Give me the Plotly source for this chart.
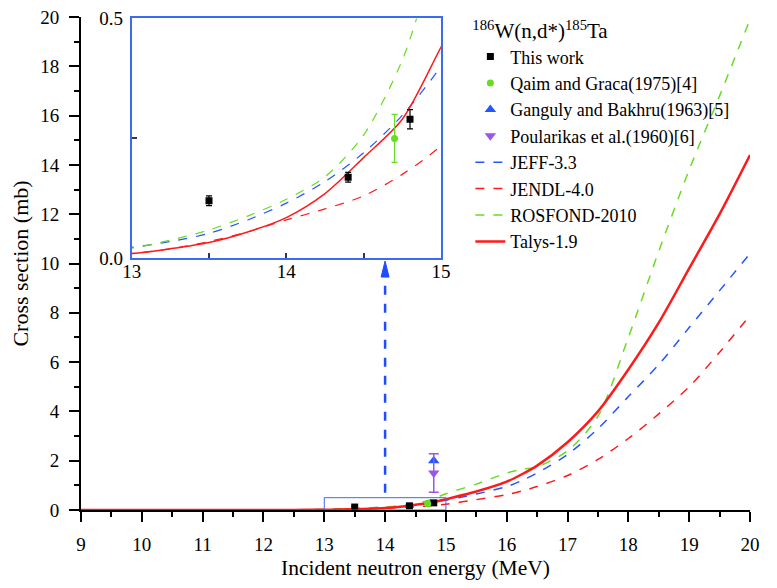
import plotly.graph_objects as go

# ---------------- data ----------------
energy = [9, 10, 11, 12, 12.5, 13, 13.25, 13.5, 13.75, 14, 14.25, 14.5, 14.75, 15,
          15.5, 16, 16.25, 16.5, 17, 17.5, 18, 18.5, 19, 19.5, 20]
talys = [0, 0, 0, 0.001, 0.004, 0.010, 0.02, 0.033, 0.055, 0.085, 0.135, 0.21, 0.29, 0.44,
         0.75, 1.15, 1.45, 1.8, 2.75, 4.0, 5.7, 7.6, 9.8, 12.0, 14.4]
jeff = [0, 0, 0, 0.002, 0.008, 0.023, 0.035, 0.052, 0.08, 0.115, 0.16, 0.22, 0.298, 0.40,
        0.65, 0.95, 1.2, 1.5, 2.25, 3.3, 4.6, 5.9, 7.4, 8.9, 10.4]
jendl = [0, 0, 0, 0.001, 0.004, 0.010, 0.02, 0.035, 0.055, 0.08, 0.103, 0.13, 0.175, 0.235,
         0.42, 0.62, 0.77, 0.95, 1.4, 2.05, 2.9, 3.9, 5.0, 6.4, 7.9]
rosfond = [0, 0, 0, 0.002, 0.008, 0.021, 0.038, 0.059, 0.088, 0.123, 0.17, 0.257, 0.413, 0.66,
           1.05, 1.5, 1.65, 1.75, 2.4, 3.8, 7.0, 10.5, 13.8, 16.8, 19.9]

this_work_e = [13.5, 14.4, 14.8]
this_work_xs = [0.12, 0.169, 0.29]
this_work_err = [0.01, 0.01, 0.02]

qaim_e = [14.7]
qaim_xs = [0.25]
qaim_err = [0.05]

ganguly_e = [14.8]
ganguly_xs = [2.0]

poularikas_e = [14.8]
poularikas_xs = [1.5]
poularikas_err = [0.78]

inset_x_ticks = [13, 13.5, 14, 14.5, 15]
inset_x_labels = ["13", "", "14", "", "15"]
inset_y_ticks = [0, 0.25, 0.5]
inset_y_labels = ["0.0", "", "0.5"]

# ---------------- styles ----------------
FONT = "Liberation Serif"
C_BLACK = "#000000"
C_GREEN = "#66dd22"
C_BLUE = "#2456ff"
C_PURPLE = "#9955ee"
C_RED = "#ff1a1a"
C_INSET = "#3a6bf0"
C_ARROW = "#1f4cff"

fig = go.Figure()

curves = [
    ("JEFF-3.3", jeff, C_BLUE, "dash", 1.5, 5),
    ("JENDL-4.0", jendl, C_RED, "dash", 1.5, 6),
    ("ROSFOND-2010", rosfond, C_GREEN, "dash", 1.5, 7),
    ("Talys-1.9", talys, C_RED, "solid", 2.5, 8),
]
for name, ys, col, dash, w, rank in curves:
    fig.add_trace(go.Scatter(x=energy, y=ys, mode="lines", name=name,
                             line=dict(color=col, dash=dash, width=w, shape="spline", smoothing=0.8),
                             legendrank=rank))
    fig.add_trace(go.Scatter(x=energy, y=ys, mode="lines", showlegend=False,
                             xaxis="x2", yaxis="y2",
                             line=dict(color=col, dash=dash, width=1.5 if w > 2 else 1.2,
                                       shape="spline", smoothing=0.8)))

fig.add_trace(go.Scatter(x=this_work_e, y=this_work_xs, mode="markers", name="This work",
                         marker=dict(symbol="square", size=7, color=C_BLACK),
                         error_y=dict(type="data", array=this_work_err, color=C_BLACK, thickness=1.5, width=3),
                         legendrank=1))
fig.add_trace(go.Scatter(x=qaim_e, y=qaim_xs, mode="markers", name="Qaim and Graca(1975)[4]",
                         marker=dict(symbol="circle", size=7, color=C_GREEN),
                         error_y=dict(type="data", array=qaim_err, color=C_GREEN, thickness=1.5, width=3),
                         legendrank=2))
fig.add_trace(go.Scatter(x=ganguly_e, y=ganguly_xs, mode="markers", name="Ganguly and Bakhru(1963)[5]",
                         marker=dict(symbol="triangle-up", size=10, color=C_BLUE),
                         legendrank=3))
fig.add_trace(go.Scatter(x=poularikas_e, y=poularikas_xs, mode="markers", name="Poularikas et al.(1960)[6]",
                         marker=dict(symbol="triangle-down", size=10, color=C_PURPLE),
                         error_y=dict(type="data", array=poularikas_err, color=C_PURPLE, thickness=1.5, width=5),
                         legendrank=4))

fig.add_trace(go.Scatter(x=this_work_e, y=this_work_xs, mode="markers", showlegend=False,
                         xaxis="x2", yaxis="y2",
                         marker=dict(symbol="square", size=7, color=C_BLACK),
                         error_y=dict(type="data", array=this_work_err, color=C_BLACK, thickness=1.2, width=3)))
fig.add_trace(go.Scatter(x=qaim_e, y=qaim_xs, mode="markers", showlegend=False,
                         xaxis="x2", yaxis="y2",
                         marker=dict(symbol="circle", size=7, color=C_GREEN),
                         error_y=dict(type="data", array=qaim_err, color=C_GREEN, thickness=1.2, width=3)))

# zoom window on the main axes and the dashed arrow pointing to the inset
fig.add_shape(type="rect", xref="x", yref="y", x0=13, x1=15, y0=0, y1=0.5,
              line=dict(color=C_INSET, width=1))
fig.add_shape(type="line", xref="x", yref="y", x0=14, x1=14, y0=0.7, y1=9.5,
              line=dict(color=C_ARROW, width=2.5, dash="dash"))
fig.add_shape(type="path", xref="x", yref="y",
              path="M 13.935 9.45 L 14.065 9.45 L 14 10.1 Z",
              fillcolor=C_ARROW, line=dict(color=C_ARROW, width=1))

tick_font = dict(family=FONT, size=19, color="black")

fig.update_layout(
    width=761, height=572,
    margin=dict(l=73, r=19, t=9, b=70, autoexpand=False),
    paper_bgcolor="white", plot_bgcolor="rgba(0,0,0,0)",
    font=dict(family=FONT, size=19, color="black"),
    xaxis=dict(range=[9, 20], dtick=1, tick0=9, showgrid=False, zeroline=False, automargin=False,
               showline=True, linecolor="black", linewidth=2,
               ticks="outside", ticklen=10, tickwidth=2, tickcolor="black",
               minor=dict(dtick=0.5, ticks="outside", ticklen=5, tickwidth=2, tickcolor="black"),
               tickfont=tick_font, ticklabelstandoff=6,
               title=dict(text="Incident neutron energy (MeV)", font=dict(family=FONT, size=21.5), standoff=14)),
    yaxis=dict(range=[0, 20], dtick=2, showgrid=False, zeroline=False, automargin=False,
               showline=True, linecolor="black", linewidth=2,
               ticks="outside", ticklen=10, tickwidth=2, tickcolor="black",
               minor=dict(dtick=1, ticks="outside", ticklen=5, tickwidth=2, tickcolor="black"),
               tickfont=tick_font, ticklabelstandoff=6, ticklabeloverflow="allow",
               title=dict(text="Cross section (mb)", font=dict(family=FONT, size=22), standoff=12)),
    xaxis2=dict(domain=[0.0758, 0.538], anchor="y2", range=[13, 15], automargin=False,
                tickvals=inset_x_ticks, ticktext=inset_x_labels, showgrid=False, zeroline=False,
                showline=True, mirror=True, linecolor=C_INSET, linewidth=2,
                ticks="inside", ticklen=5, tickwidth=1.5, tickcolor="#333366",
                tickfont=tick_font, ticklabelstandoff=-5),
    yaxis2=dict(domain=[0.5105, 0.997], anchor="x2", range=[0, 0.5], automargin=False,
                tickvals=inset_y_ticks, ticktext=inset_y_labels, showgrid=False, zeroline=False,
                showline=True, mirror=True, linecolor=C_INSET, linewidth=2,
                ticks="inside", ticklen=5, tickwidth=1.5, tickcolor="#333366",
                tickfont=tick_font, ticklabelstandoff=3),
    legend=dict(x=0.582, y=1.012, xanchor="left", yanchor="top",
                bgcolor="rgba(0,0,0,0)", borderwidth=0,
                font=dict(family=FONT, size=18, color="black"),
                title=dict(text="<sup>186</sup>W(n,d*)<sup>185</sup>Ta",
                           font=dict(family=FONT, size=21)),
                tracegroupgap=0),
    showlegend=True,
)

fig.write_html("out.html")
